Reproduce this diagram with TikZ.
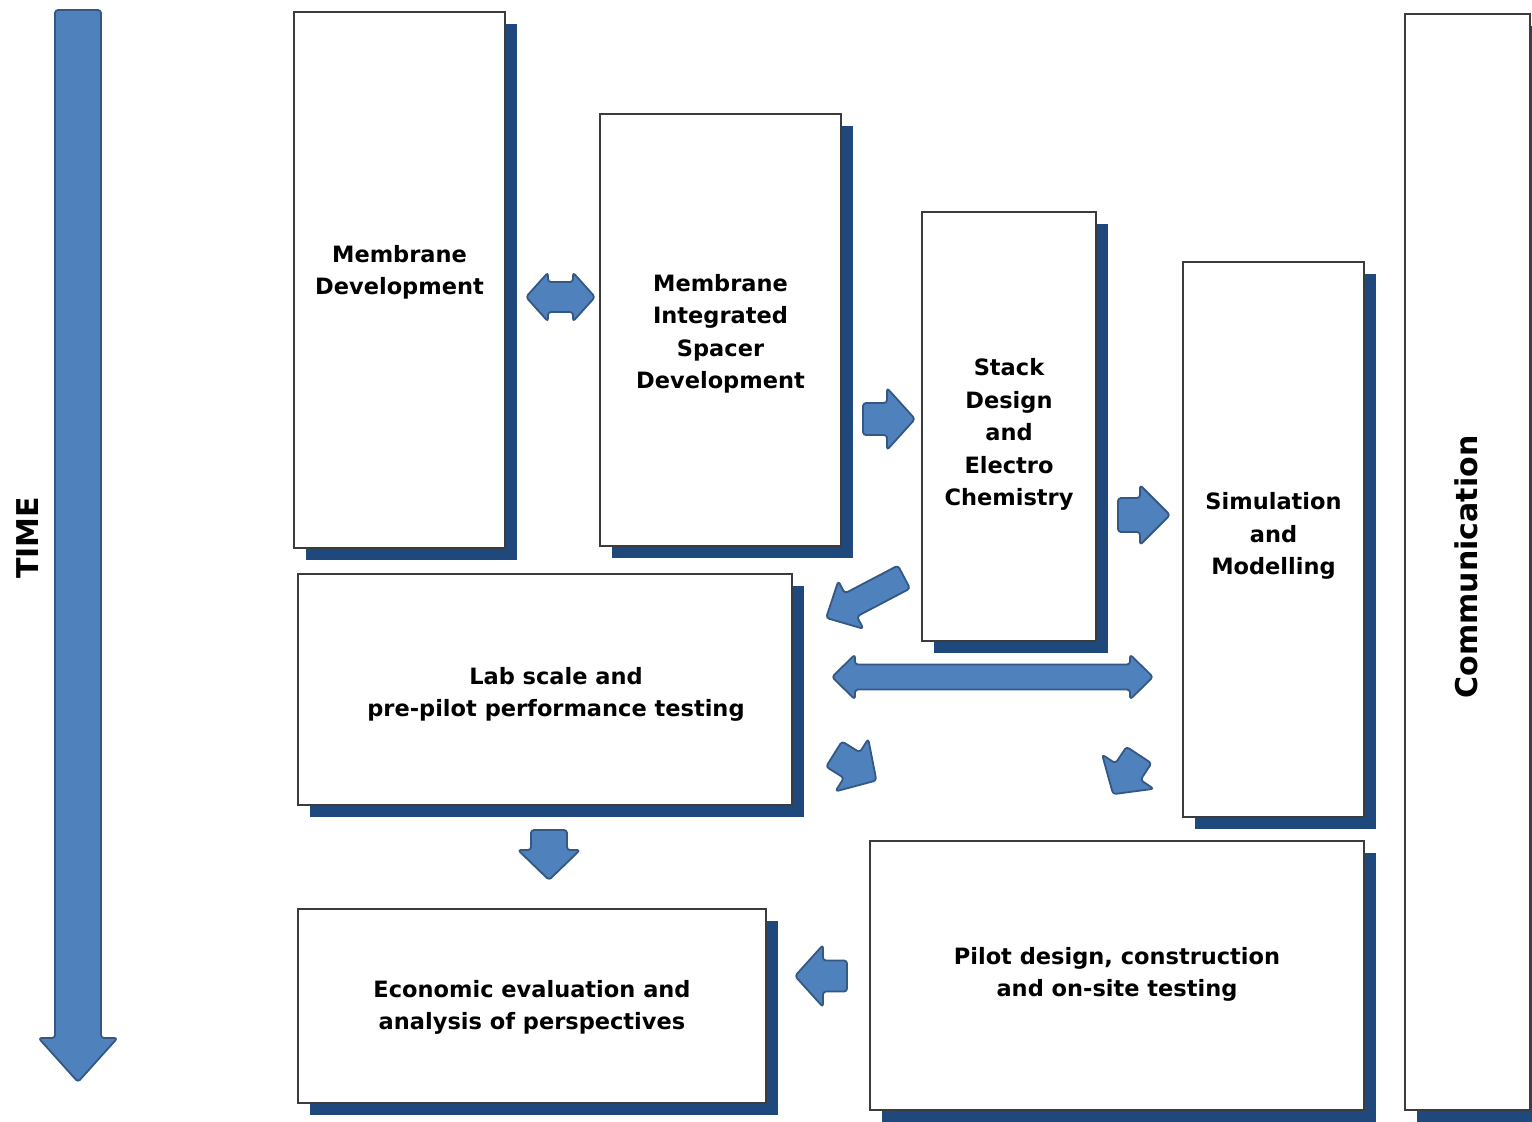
\documentclass[tikz,border=0pt]{standalone}
\usepackage{fontspec}
\setmainfont{DejaVu Sans}
\usetikzlibrary{shadows}
\definecolor{arrowfill}{RGB}{79,129,189}
\definecolor{arrowline}{RGB}{52,88,132}
\definecolor{shadowblue}{RGB}{31,73,125}
\definecolor{boxline}{RGB}{60,60,60}

% single block arrow: tail x, tail y, angle (y down), length, shaft width, head width, head length
\newcommand{\blockarrow}[7]{%
  \begin{scope}[shift={(#1,#2)}, rotate=-#3]
    \draw[barrow] (0,{-#5/2}) -- ({#4-#7},{-#5/2}) -- ({#4-#7},{-#6/2}) -- (#4,0)
      -- ({#4-#7},{#6/2}) -- ({#4-#7},{#5/2}) -- (0,{#5/2}) -- cycle;
  \end{scope}}
% double block arrow: left tip x, y, length, shaft width, head width, head length
\newcommand{\dblarrow}[6]{%
  \begin{scope}[shift={(#1,#2)}]
    \draw[barrow] (0,0) -- (#6,{-#5/2}) -- (#6,{-#4/2}) -- ({#3-#6},{-#4/2}) -- ({#3-#6},{-#5/2})
      -- (#3,0) -- ({#3-#6},{#5/2}) -- ({#3-#6},{#4/2}) -- (#6,{#4/2}) -- (#6,{#5/2}) -- cycle;
  \end{scope}}

\tikzset{
  x=1pt, y=-1pt,
  barrow/.style={fill=arrowfill, draw=arrowline, line width=1.8pt, rounded corners=3pt, line join=round},
  box/.style={draw=boxline, line width=1.8pt, fill=white, inner sep=0pt,
    drop shadow={shadow xshift=12pt, shadow yshift=-12pt, fill=shadowblue, opacity=1}},
  txt/.style={align=center, inner sep=0pt, font=\bfseries\fontsize{22.5}{32.5}\selectfont},
}

\begin{document}
\begin{tikzpicture}
  \useasboundingbox[fill=white] (0,0) rectangle (1532,1122);

  % work package boxes, each with its title
  \node[box, minimum width=211, minimum height=536,
        label={[txt, name=mdtext, yshift=7.5pt]center:Membrane\\Development}] (md) at (399.5,280) {};
  \node[box, minimum width=241, minimum height=432,
        label={[txt, name=mistext, yshift=-4pt]center:Membrane\\Integrated\\Spacer\\Development}] (mis) at (720.5,330) {};
  \node[box, minimum width=174, minimum height=429,
        label={[txt, name=stacktext, yshift=-8pt]center:Stack\\Design\\and\\Electro\\Chemistry}] (stack) at (1009,426.5) {};
  \node[box, minimum width=181, minimum height=555,
        label={[txt, name=simtext, yshift=3.5pt]center:Simulation\\and\\Modelling}] (sim) at (1273.5,539.5) {};
  \node[box, minimum width=125, minimum height=1096] (comm) at (1467.5,562) {};
  \node[rotate=90, inner sep=0pt, font=\bfseries\fontsize{30}{32}\selectfont] (commtext) at (1466,567) {Communication};
  \node[box, minimum width=494, minimum height=231,
        label={[txt, name=labtext, yshift=-5pt, xshift=11pt]center:Lab scale and\\pre-pilot performance testing}] (lab) at (545,689.5) {};
  \node[box, minimum width=468, minimum height=194,
        label={[txt, name=ecotext, yshift=-1.5pt]center:Economic evaluation and\\analysis of perspectives}] (eco) at (532,1006) {};
  \node[box, minimum width=494, minimum height=269,
        label={[txt, name=pilottext, yshift=1pt]center:Pilot design, construction\\and on-site testing}] (pilot) at (1117,975.5) {};

  % time axis
  \blockarrow{78}{10}{90}{1072}{46}{79}{44}
  \node[rotate=90, inner sep=0pt, font=\bfseries\fontsize{30}{32}\selectfont] (time) at (28,538) {TIME};

  % links between work packages
  \dblarrow{526}{297}{69}{30}{49}{22}
  \blockarrow{863}{419}{0}{52}{32}{62}{28}
  \blockarrow{1118}{515}{0}{52}{34}{60}{30}
  \blockarrow{904}{577}{152.3}{88}{26}{54}{28}
  \dblarrow{832}{677}{321}{25}{45}{23}
  \blockarrow{834}{754}{32}{50}{30}{62}{29}
  \blockarrow{1139}{755}{123.5}{47}{30}{62}{27}
  \blockarrow{549}{830}{90}{50}{36}{62}{30}
  \blockarrow{847}{976}{180}{52}{31}{62}{28}
\end{tikzpicture}
\end{document}
